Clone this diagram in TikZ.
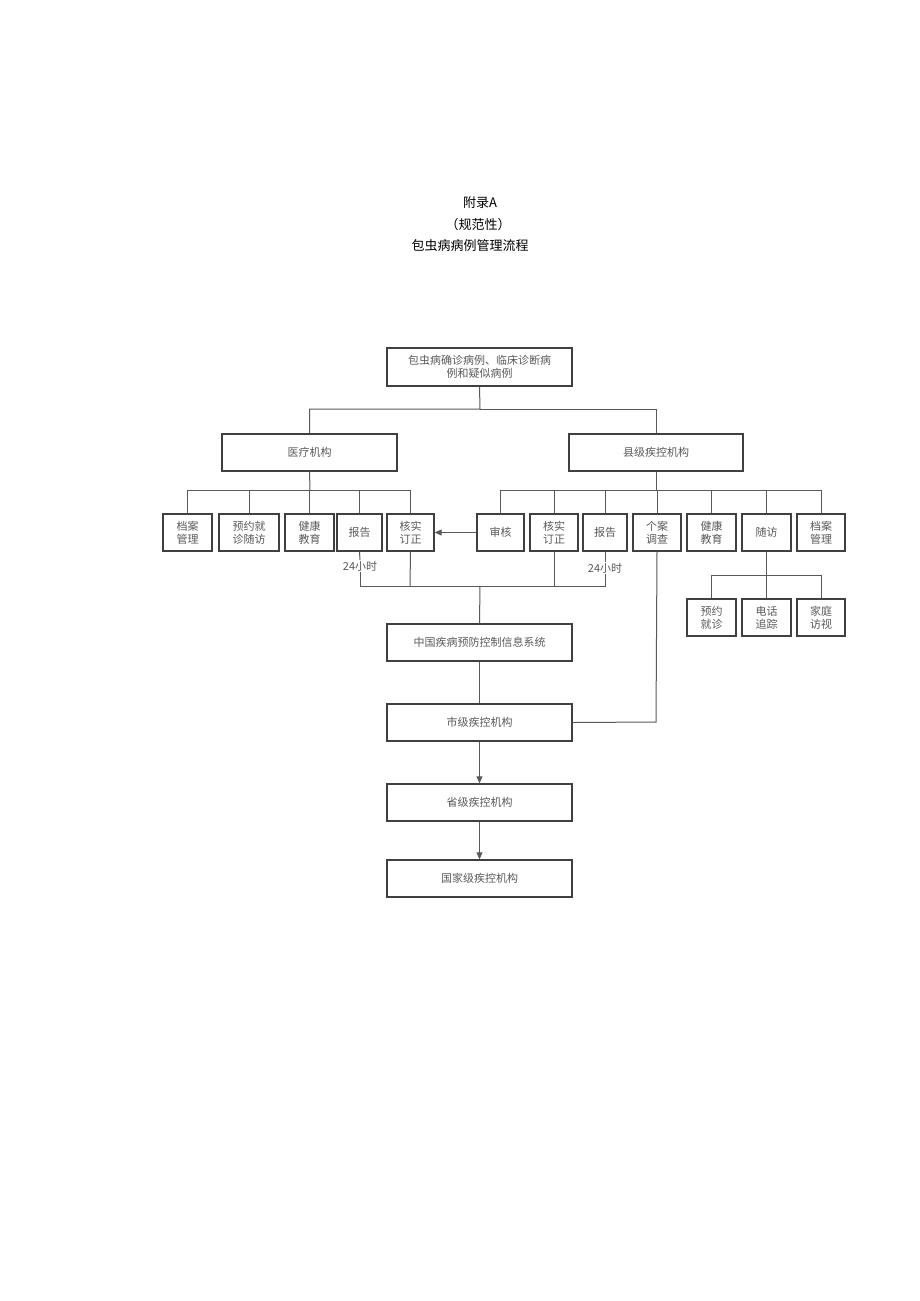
\documentclass[tikz,border=0pt]{standalone}
\usepackage{fontspec}
\setmainfont{Noto Sans CJK SC}
\usetikzlibrary{arrows.meta}
\begin{document}
\begin{tikzpicture}[x=1pt,y=-1pt,
  bx/.style={draw=black!75,line width=1.3pt,inner sep=0pt,font=\fontsize{11}{13}\selectfont,text=black!65,align=center},
  ln/.style={draw=black!65,line width=1pt},
  ar/.style={ln,-{Triangle[length=7pt,width=6pt]}}]
\useasboundingbox (0,0) rectangle (920,1301);
\node[font=\fontsize{13}{15}\selectfont] (t1) at (480,203) {附录A};
\node[font=\fontsize{13}{15}\selectfont] (t2) at (478,225) {（规范性）};
\node[font=\fontsize{13}{15}\selectfont] (t3) at (470,246) {包虫病病例管理流程};
\newcommand{\bxn}[6]{\node[bx,minimum width=#3-#2,minimum height=#5-#4] (#1) at ({(#2+#3)/2},{(#4+#5)/2}) {#6};}
\bxn{top}{387}{572}{348}{386}{包虫病确诊病例、临床诊断病\\例和疑似病例}
\bxn{yl}{222}{397}{434}{471}{医疗机构}
\bxn{xj}{569}{743}{434}{471}{县级疾控机构}
\bxn{l1}{163}{212}{514}{551}{档案\\管理}
\bxn{l2}{219}{279}{514}{551}{预约就\\诊随访}
\bxn{l3}{285}{334}{514}{551}{健康\\教育}
\bxn{l4}{337}{382}{514}{551}{报告}
\bxn{l5}{387}{434}{514}{551}{核实\\订正}
\bxn{r1}{477}{524}{514}{551}{审核}
\bxn{r2}{530}{578}{514}{551}{核实\\订正}
\bxn{r3}{583}{627}{514}{551}{报告}
\bxn{r4}{633}{681}{514}{551}{个案\\调查}
\bxn{r5}{687}{736}{514}{551}{健康\\教育}
\bxn{r6}{742}{791}{514}{551}{随访}
\bxn{r7}{797}{845}{514}{551}{档案\\管理}
\bxn{f1}{687}{736}{599}{636}{预约\\就诊}
\bxn{f2}{742}{791}{599}{636}{电话\\追踪}
\bxn{f3}{797}{845}{599}{636}{家庭\\访视}
\bxn{zg}{387}{572}{624}{661}{中国疾病预防控制信息系统}
\bxn{sj}{387}{572}{704}{741}{市级疾控机构}
\bxn{pj}{387}{572}{784}{821}{省级疾控机构}
\bxn{gj}{387}{572}{860}{897}{国家级疾控机构}
\node[font=\fontsize{11}{13}\selectfont,text=black!65,fill=white,inner sep=1pt] (h1) at (360,566) {24小时};
\node[font=\fontsize{11}{13}\selectfont,text=black!65,fill=white,inner sep=1pt] (h2) at (605,568) {24小时};
% top split
\draw[ln] (top.south) -- (480,409) -| (yl.north);
\draw[ln] (480,409) -| (xj.north);
% left branch
\draw[ln] (yl.south) -- (310,490);
\draw[ln] (l1.north) |- (l5.north |- 0,490) -- (l5.north);
\foreach \n in {l2,l3,l4} \draw[ln] (\n.north) -- (\n.north |- 0,490);
% right branch
\draw[ln] (xj.south) -- (656,490);
\draw[ln] (r1.north) |- (r7.north |- 0,490) -- (r7.north);
\foreach \n in {r2,r3,r4,r5,r6} \draw[ln] (\n.north) -- (\n.north |- 0,490);
% arrow audit -> verify
\draw[ar] (r1.west) -- (l5.east);
% reports
\draw[ln] (l4.south) -- (h1.north);
\draw[ln] (h1.south) -- (360,586) -- (605,586) -- (h2.south);
\draw[ln] (h2.north) -- (r3.south);
\draw[ln] (l5.south) -- (410,586);
\draw[ln] (r2.south) -- (554,586);
\draw[ln] (480,586) -- (zg.north);
\draw[ln] (zg.south) -- (sj.north);
\draw[ln] (r4.south) -- (656,722) -- (sj.east);
\draw[ar] (sj.south) -- (pj.north);
\draw[ar] (pj.south) -- (gj.north);
% follow-up
\draw[ln] (r6.south) -- (766.5,575);
\draw[ln] (f1.north) |- (f3.north |- 0,575) -- (f3.north);
\draw[ln] (f2.north) -- (766.5,575);
\end{tikzpicture}
\end{document}
